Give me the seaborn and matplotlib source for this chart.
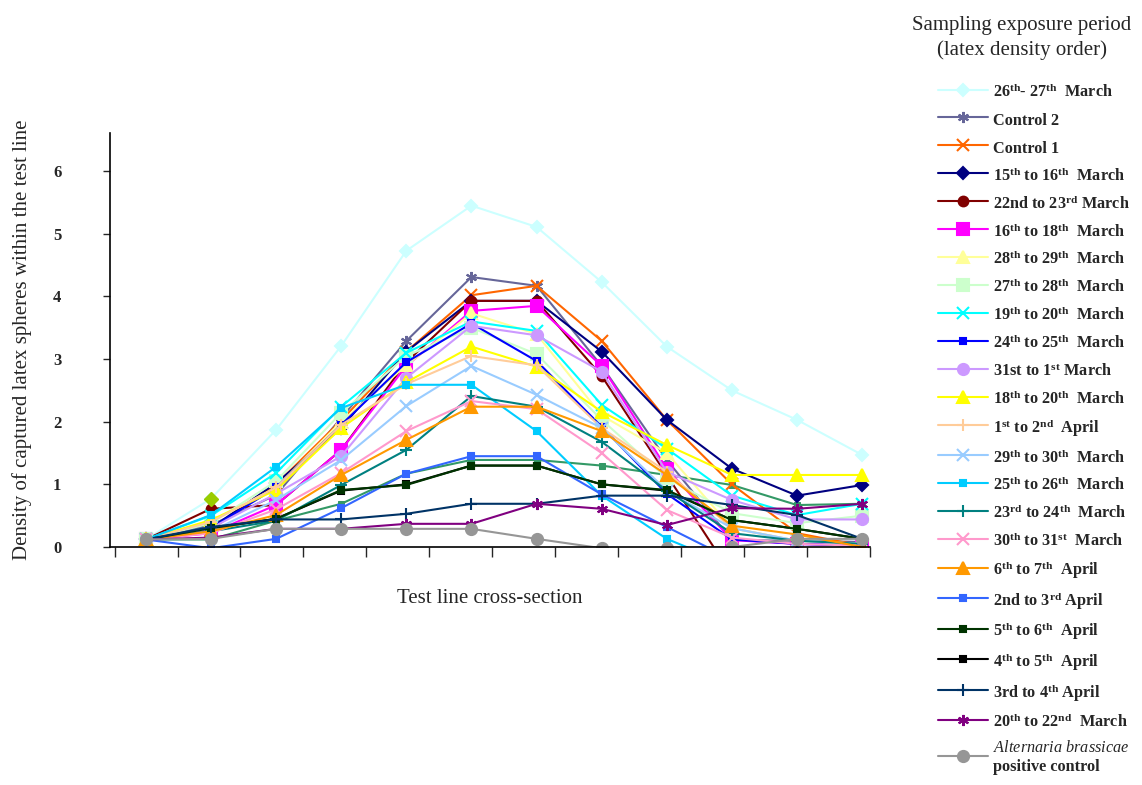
import numpy as np
import pandas as pd
import matplotlib
matplotlib.use("Agg")
import matplotlib.pyplot as plt
import seaborn as sns

# ---------------- data ----------------
sections = list(range(1, 13))  # test line cross-section positions

labels = [
    r"26$^{\mathrm{th}}$- 27$^{\mathrm{th}}$  March",
    "Control 2",
    "Control 1",
    r"15$^{\mathrm{th}}$ to 16$^{\mathrm{th}}$  March",
    r"22nd to 23$^{\mathrm{rd}}$ March",
    r"16$^{\mathrm{th}}$ to 18$^{\mathrm{th}}$  March",
    r"28$^{\mathrm{th}}$ to 29$^{\mathrm{th}}$  March",
    r"27$^{\mathrm{th}}$ to 28$^{\mathrm{th}}$  March",
    r"19$^{\mathrm{th}}$ to 20$^{\mathrm{th}}$  March",
    r"24$^{\mathrm{th}}$ to 25$^{\mathrm{th}}$  March",
    r"31st to 1$^{\mathrm{st}}$ March",
    r"18$^{\mathrm{th}}$ to 20$^{\mathrm{th}}$  March",
    r"1$^{\mathrm{st}}$ to 2$^{\mathrm{nd}}$  April",
    r"29$^{\mathrm{th}}$ to 30$^{\mathrm{th}}$  March",
    r"25$^{\mathrm{th}}$ to 26$^{\mathrm{th}}$  March",
    r"23$^{\mathrm{rd}}$ to 24$^{\mathrm{th}}$  March",
    r"30$^{\mathrm{th}}$ to 31$^{\mathrm{st}}$  March",
    r"6$^{\mathrm{th}}$ to 7$^{\mathrm{th}}$  April",
    r"2nd to 3$^{\mathrm{rd}}$ April",
    r"5$^{\mathrm{th}}$ to 6$^{\mathrm{th}}$  April",
    r"4$^{\mathrm{th}}$ to 5$^{\mathrm{th}}$  April",
    r"3rd to 4$^{\mathrm{th}}$ April",
    r"20$^{\mathrm{th}}$ to 22$^{\mathrm{nd}}$  March",
    "$\\mathit{Alternaria\\ brassicae}$\npositive control",
]

mar26_27 = [0.12, 0.77, 1.87, 3.21, 4.73, 5.45, 5.11, 4.23, 3.20, 2.50, 2.03, 1.47]
control2  = [0.12, 0.35, 0.83, 2.06, 3.29, 4.31, 4.17, 2.89, 1.39, 0.11, 0.10, 0.08]
control1  = [0.12, 0.28, 1.00, 2.02, 3.12, 4.02, 4.17, 3.29, 2.03, 1.00, 0.22, 0.02]
mar15_16  = [0.12, 0.30, 1.02, 1.90, 3.12, 3.93, 3.93, 3.12, 2.03, 1.25, 0.82, 0.99]
mar22_23  = [0.12, 0.61, 0.67, 1.55, 2.95, 3.93, 3.93, 2.73, 1.15, -0.45, -0.45, -0.45]
mar16_18  = [0.12, 0.22, 0.67, 1.55, 2.89, 3.77, 3.85, 2.89, 1.25, 0.11, 0.05, 0.02]
mar28_29  = [0.12, 0.40, 0.95, 2.00, 2.90, 3.73, 3.40, 2.10, 1.50, 0.30, 0.10, 0.05]
mar27_28  = [0.12, 0.38, 1.05, 2.14, 3.05, 3.50, 3.08, 2.03, 1.10, 0.54, 0.38, 0.50]
mar19_20  = [0.12, 0.50, 1.18, 2.24, 3.10, 3.60, 3.45, 2.27, 1.57, 0.82, 0.51, 0.69]
mar24_25  = [0.12, 0.30, 0.95, 1.95, 2.95, 3.57, 2.97, 1.92, 0.85, 0.12, 0.05, 0.02]
mar31_1   = [0.12, 0.30, 0.85, 1.45, 2.70, 3.53, 3.38, 2.80, 1.20, 0.75, 0.44, 0.44]
mar18_20  = [0.12, 0.43, 0.91, 1.90, 2.63, 3.20, 2.88, 2.16, 1.63, 1.15, 1.15, 1.15]
apr1_2    = [0.12, 0.40, 0.95, 1.95, 2.60, 3.05, 2.90, 1.90, 1.20, 0.30, 0.10, 0.05]
mar29_30  = [0.12, 0.25, 0.75, 1.39, 2.25, 2.89, 2.43, 1.90, 0.90, 0.30, 0.10, 0.05]
mar25_26  = [0.12, 0.51, 1.28, 2.22, 2.59, 2.59, 1.85, 0.82, 0.13, -0.30, -0.30, -0.30]
mar23_24  = [0.12, 0.25, 0.42, 0.99, 1.55, 2.41, 2.24, 1.68, 0.90, 0.22, 0.10, 0.05]
mar30_31  = [0.12, 0.22, 0.60, 1.18, 1.85, 2.33, 2.20, 1.50, 0.59, 0.15, 0.05, 0.02]
apr6_7    = [0.12, 0.25, 0.51, 1.15, 1.71, 2.24, 2.24, 1.85, 1.15, 0.34, 0.20, 0.00]
apr2_3    = [0.12, -0.02, 0.13, 0.62, 1.17, 1.45, 1.45, 0.84, 0.32, -0.20, -0.20, -0.20]
apr5_6    = [0.12, 0.30, 0.45, 0.91, 0.99, 1.30, 1.30, 1.00, 0.91, 0.43, 0.29, 0.13]
apr4_5    = [0.12, 0.30, 0.45, 0.90, 1.00, 1.30, 1.30, 1.00, 0.90, 0.43, 0.29, 0.13]
apr3_4    = [0.12, 0.32, 0.44, 0.44, 0.53, 0.69, 0.69, 0.82, 0.82, 0.67, 0.51, 0.13]
mar20_22  = [0.12, 0.15, 0.29, 0.29, 0.37, 0.37, 0.69, 0.61, 0.35, 0.62, 0.61, 0.69]
alternaria = [0.12, 0.13, 0.29, 0.29, 0.29, 0.29, 0.13, -0.02, -0.02, 0.00, 0.13, 0.13]
unlisted_series = [0.12, 0.12, 0.42, 0.69, 1.17, 1.39, 1.39, 1.30, 1.15, 0.99, 0.67, 0.69]

series_values = [mar26_27, control2, control1, mar15_16, mar22_23, mar16_18, mar28_29,
                 mar27_28, mar19_20, mar24_25, mar31_1, mar18_20, apr1_2, mar29_30,
                 mar25_26, mar23_24, mar30_31, apr6_7, apr2_3, apr5_6, apr4_5, apr3_4,
                 mar20_22, alternaria]

colors = ["#CCFFFF", "#666699", "#FF6600", "#000080", "#800000", "#FF00FF", "#FFFF99",
          "#CCFFCC", "#00FFFF", "#0000FF", "#CC99FF", "#FFFF00", "#FFCC99", "#99CCFF",
          "#00CCFF", "#008080", "#FF99CC", "#FF9900", "#3366FF", "#003300", "#000000",
          "#003366", "#800080", "#969696"]
ast = (6, 2, 0)
markers = ["D", ast, "x", "D", "o", "s", "^", "s", "x", "s", "o", "^", "+", "x",
           "s", "+", "x", "^", "s", "s", "s", "+", ast, "o"]
msizes = [6, 8, 8, 6, 7, 8, 8, 8, 9, 4, 8, 9, 9, 9, 5, 9, 9, 9, 4, 5, 5, 9, 8, 8]

# ---------------- style ----------------
sns.set_style("white")
plt.rcParams["font.family"] = ["Liberation Serif", "DejaVu Serif"]
plt.rcParams["mathtext.fontset"] = "custom"
plt.rcParams["mathtext.rm"] = "Liberation Serif:bold"
plt.rcParams["mathtext.bf"] = "Liberation Serif:bold"
plt.rcParams["mathtext.it"] = "Liberation Serif:italic"

fig = plt.figure(figsize=(11.42, 7.85), dpi=100)
ax = fig.add_axes([110 / 1142, 1 - 547 / 785, 760 / 1142, (547 - 133) / 785])

for i in range(len(series_values)):
    df = pd.DataFrame({"section": sections, "density": series_values[i]})
    z = 1.5 if i == 20 else 2 + i * 0.01
    sns.lineplot(data=df, x="section", y="density", ax=ax, color=colors[i],
                 marker=markers[i], markersize=msizes[i], markeredgewidth=1.5,
                 markeredgecolor=colors[i], linewidth=1.5, label=labels[i], zorder=z,
                 legend=False)

# sea-green series without legend entry
df_u = pd.DataFrame({"section": sections, "density": unlisted_series})
sns.lineplot(data=df_u, x="section", y="density", ax=ax, color="#339966", marker="s",
             markersize=4, markeredgecolor="#339966", linewidth=1.5, zorder=1.8,
             legend=False)

# yellow-green marker on the 26th-27th March series
ax.plot(sections[1], mar26_27[1], marker="D", color="#99CC00", markersize=7, zorder=3,
        linestyle="none")

ax.set_xlim(0.45, 12.12)
ax.set_ylim(0, 6.61)
ax.set_xticks(np.linspace(0.52, 12.12, 13))
ax.set_xticklabels([])
ax.set_yticks(range(0, 7))
ax.set_yticklabels([str(v) for v in range(0, 7)], fontweight="bold", fontsize=12)
ax.tick_params(axis="y", direction="out", length=5, width=1, pad=30, left=True)
ax.tick_params(axis="x", direction="out", length=7, width=1, bottom=True)
for s in ["top", "right"]:
    ax.spines[s].set_visible(False)
for s in ["left", "bottom"]:
    ax.spines[s].set_color("black")
    ax.spines[s].set_linewidth(1.2)

ax.set_xlabel("Test line cross-section", fontsize=15, labelpad=20)
ax.set_ylabel("Density of captured latex spheres within the test line", fontsize=15)
ax.yaxis.set_label_coords(-0.102, 0.5)

handles, labs = ax.get_legend_handles_labels()
handles = [h for h, l in zip(handles, labs) if not l.startswith("_")]
labs = [l for l in labs if not l.startswith("_")]
fig.legend(handles, labs, loc="upper left", bbox_to_anchor=(938 / 1142, 1 - 82 / 785),
           frameon=False, borderaxespad=0, borderpad=0, handlelength=3.1,
           handleheight=1.45, handletextpad=0.3, labelspacing=0.53,
           prop={"family": "Liberation Serif", "weight": "bold", "size": 11.7})

fig.text(1022 / 1142, 1 - 38 / 785, "Sampling exposure period\n(latex density order)",
         ha="center", va="center", fontsize=15, linespacing=1.3)

fig.savefig("out.png", dpi=100)
